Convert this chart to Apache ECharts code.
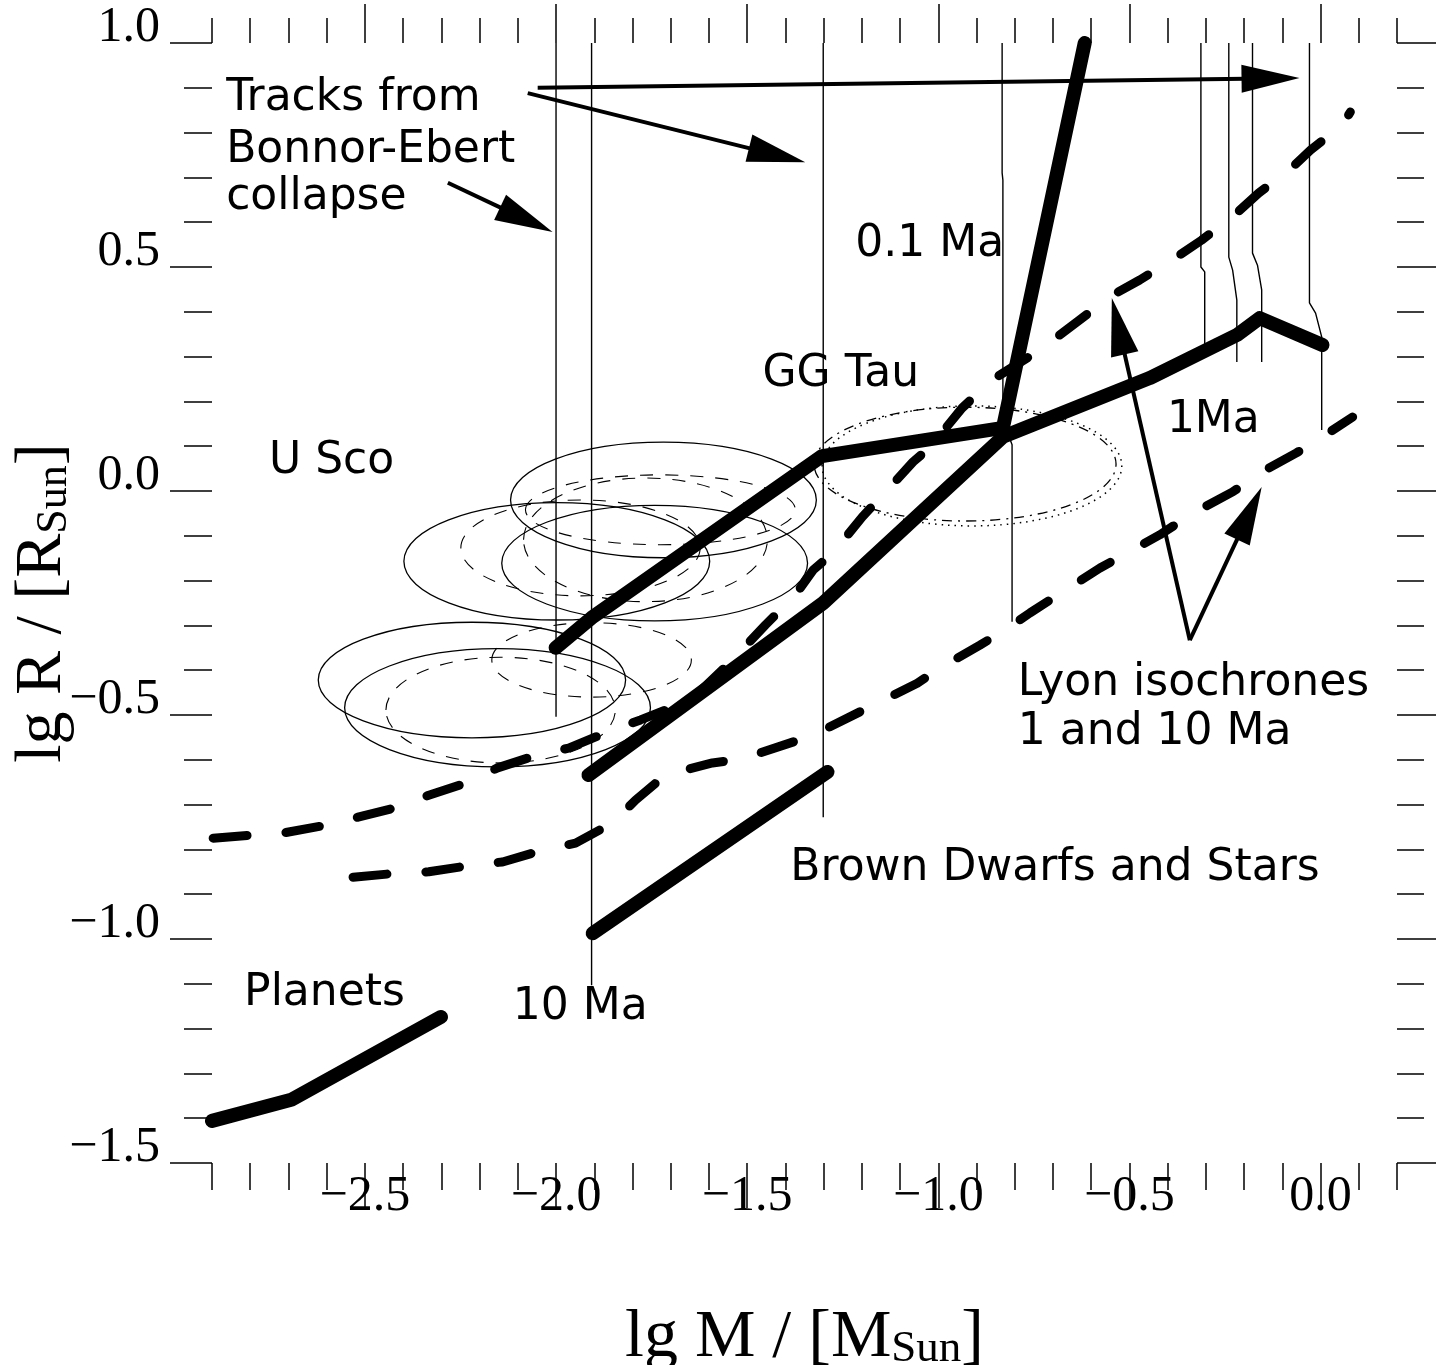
<!DOCTYPE html>
<html>
<head>
<meta charset="utf-8">
<script src="https://cdn.jsdelivr.net/npm/echarts@6/dist/echarts.min.js"></script>
<style>
  html, body { margin: 0; padding: 0; background: #fff; }
  #chart { width: 1439px; height: 1365px; }
</style>
</head>
<body>
<div id="chart"></div>
<script>
// ---- axes ----
const xRange = [-2.9, 0.2];
const yRange = [-1.5, 1.0];
const xMajorTicks = [-2.5, -2.0, -1.5, -1.0, -0.5, 0.0];

// ---- evolutionary tracks from Bonnor-Ebert collapse (lg M, lg R) ----
const track1 = [[-2.0, 1.0], [-2.0, -0.504]];
const track2 = [[-1.907, 1.0], [-1.907, -1.103]];
const track3 = [[-1.301, 1.0], [-1.301, -0.728]];
const track4 = [[-0.833, 1.0], [-0.833, 0.710], [-0.831, 0.694], [-0.831, 0.158], [-0.807, 0.103], [-0.807, -0.292]];
const track5 = [[-0.313, 1.0], [-0.313, 0.500], [-0.303, 0.489], [-0.303, 0.32]];
const track6 = [[-0.240, 1.0], [-0.240, 0.522], [-0.230, 0.493], [-0.219, 0.426], [-0.219, 0.288]];
const track7 = [[-0.178, 1.0], [-0.178, 0.531], [-0.165, 0.504], [-0.154, 0.449], [-0.154, 0.288]];
const track8 = [[-0.029, 1.0], [-0.029, 0.420], [-0.013, 0.397], [0.003, 0.344], [0.003, 0.136]];

// ---- isochrones of the collapse models ----
const beIso01Ma = [[-2.001, -0.350], [-1.907, -0.283], [-1.304, 0.078], [-0.831, 0.141], [-0.617, 1.0]];
const beIso1Ma = [[-1.915, -0.634], [-1.301, -0.250], [-0.831, 0.121], [-0.447, 0.252], [-0.219, 0.348], [-0.159, 0.386], [0.005, 0.326]];
const beIso10Ma = [[-1.904, -0.987], [-1.290, -0.627]];
const planets = [[-2.9, -1.406], [-2.693, -1.359], [-2.301, -1.174]];

// ---- Lyon isochrones ----
const lyon1Ma = [
  [-2.897, -0.775], [-2.793, -0.768], [-2.712, -0.763], [-2.602, -0.746], [-2.518, -0.728],
  [-2.411, -0.705], [-2.333, -0.679], [-2.228, -0.650], [-2.153, -0.618], [-2.048, -0.589],
  [-1.967, -0.574], [-1.865, -0.538], [-1.779, -0.511], [-1.648, -0.467], [-1.544, -0.382],
  [-1.452, -0.299], [-1.374, -0.232], [-1.327, -0.176], [-1.275, -0.138], [-1.199, -0.058],
  [-1.126, 0.009], [-1.066, 0.065], [-1.021, 0.098], [-0.938, 0.185], [-0.859, 0.248],
  [-0.734, 0.315], [-0.630, 0.382], [-0.549, 0.435], [-0.473, 0.471], [-0.381, 0.520],
  [-0.311, 0.560], [-0.225, 0.616], [-0.162, 0.665], [-0.076, 0.721], [-0.026, 0.761],
  [0.057, 0.817], [0.078, 0.846]
];
const lyon10Ma = [
  [-2.531, -0.862], [-2.414, -0.853], [-2.333, -0.850], [-2.218, -0.835], [-2.140, -0.828],
  [-2.032, -0.801], [-1.949, -0.786], [-1.852, -0.741], [-1.792, -0.690], [-1.714, -0.634],
  [-1.591, -0.607], [-1.513, -0.598], [-1.379, -0.560], [-1.327, -0.545], [-1.170, -0.478],
  [-1.055, -0.429], [-0.987, -0.391], [-0.891, -0.344], [-0.818, -0.306], [-0.760, -0.272],
  [-0.577, -0.172], [-0.421, -0.098], [-0.329, -0.047], [-0.230, -0.002], [-0.159, 0.040],
  [-0.063, 0.085], [0.005, 0.121], [0.084, 0.165]
];

// ---- observed objects: error ellipses [lg M, lg R, half-width in lg M, half-height in lg R] ----
const uScoSolid = [
  [-1.719, -0.020, 0.400, 0.129],
  [-1.998, -0.157, 0.400, 0.131],
  [-1.742, -0.161, 0.400, 0.129],
  [-2.220, -0.422, 0.402, 0.129],
  [-2.153, -0.484, 0.400, 0.132]
];
const uScoDashed = [
  [-1.766, -0.109, 0.319, 0.138],
  [-1.936, -0.127, 0.313, 0.107],
  [-1.727, -0.042, 0.353, 0.078],
  [-1.907, -0.377, 0.261, 0.083],
  [-2.145, -0.489, 0.300, 0.118]
];
const ggTauDotted = [[-0.912, 0.056, 0.392, 0.134]];
const ggTauDashDot = [[-0.930, 0.060, 0.395, 0.127]];

// ---- annotation arrows [from lg M, from lg R, to lg M, to lg R] ----
const arrows = [
  [-2.048, 0.900, -0.055, 0.922],
  [-2.074, 0.888, -1.348, 0.734],
  [-2.283, 0.688, -2.009, 0.578],
  [-0.342, -0.333, -0.546, 0.431],
  [-0.342, -0.333, -0.154, 0.009]
];

// ---- annotation texts and their anchors (lg M, lg R) ----
const noteTexts = ['Tracks from', 'Bonnor-Ebert', 'collapse', '0.1 Ma', 'GG Tau', 'U Sco', '1Ma',
  'Lyon isochrones', '1 and 10 Ma', 'Brown Dwarfs and Stars', 'Planets', '10 Ma'];
const noteAnchors = [[-2.863, 0.877], [-2.863, 0.761], [-2.863, 0.654], [-1.217, 0.549], [-1.460, 0.259],
  [-2.751, 0.065], [-0.402, 0.158], [-0.792, -0.429], [-0.792, -0.540], [-1.387, -0.842],
  [-2.816, -1.121], [-2.113, -1.152]];

// ---------------------------------------------------------------
const SERIF = '"Liberation Serif", "Times New Roman", serif';
const SANS = '"DejaVu Sans", Verdana, sans-serif';
const INK = '#000';
const tickLine = { color: INK, width: 1.5 };
const fmtTick = v => (v < -1e-9 ? '\u2212' : '') + Math.abs(v).toFixed(1);

function xAxis(position, tickLen, majorOnly, labels) {
  const ax = {
    type: 'value', gridIndex: 0, position: position,
    min: xRange[0], max: xRange[1], interval: 0.1,
    axisLine: { show: false, onZero: false }, splitLine: { show: false },
    axisTick: { show: true, inside: false, length: tickLen, lineStyle: tickLine },
    axisLabel: { show: false }
  };
  if (majorOnly) ax.axisTick.customValues = xMajorTicks;
  if (labels) {
    ax.axisLabel = {
      show: true, customValues: xMajorTicks, margin: 9, formatter: fmtTick,
      fontFamily: SERIF, fontSize: 50, lineHeight: 50, color: INK
    };
    ax.name = '{a|lg M / [M}{s|Sun}{a|]}';
    ax.nameLocation = 'middle';
    ax.nameGap = 175;
    ax.nameMoveOverlap = false;
    ax.nameTextStyle = {
      color: INK, verticalAlign: 'middle',
      rich: {
        a: { fontFamily: SERIF, fontSize: 68, lineHeight: 68, verticalAlign: 'bottom', color: INK },
        s: { fontFamily: SERIF, fontSize: 45, lineHeight: 52, verticalAlign: 'bottom', color: INK }
      }
    };
  }
  return ax;
}

function yAxis(position, tickLen, minorLen, labels) {
  const ax = {
    type: 'value', gridIndex: 0, position: position,
    min: yRange[0], max: yRange[1], interval: 0.5,
    axisLine: { show: false, onZero: false }, splitLine: { show: false },
    axisTick: { show: true, inside: false, length: tickLen, lineStyle: tickLine },
    minorTick: { show: true, splitNumber: 5, length: minorLen, lineStyle: tickLine },
    minorSplitLine: { show: false },
    axisLabel: { show: false }
  };
  if (labels) {
    ax.axisLabel = {
      show: true, margin: 52, formatter: fmtTick, verticalAlign: 'bottom',
      fontFamily: SERIF, fontSize: 50, lineHeight: 30, color: INK
    };
    ax.name = '{a|lg R / [R}{s|Sun}{a|]}';
    ax.nameLocation = 'middle';
    ax.nameGap = 169;
    ax.nameMoveOverlap = false;
    ax.nameTextStyle = {
      color: INK, verticalAlign: 'middle',
      rich: {
        a: { fontFamily: SERIF, fontSize: 66, lineHeight: 66, verticalAlign: 'bottom', color: INK },
        s: { fontFamily: SERIF, fontSize: 44, lineHeight: 50, verticalAlign: 'bottom', color: INK }
      }
    };
  }
  return ax;
}

function ellipseSeries(data, dash, width) {
  return {
    type: 'custom', coordinateSystem: 'cartesian2d', silent: true, data: data, z: 1,
    renderItem: (params, api) => {
      const c = api.coord([api.value(0), api.value(1)]);
      const s = api.size([api.value(2), api.value(3)]);
      return {
        type: 'ellipse',
        shape: { cx: c[0], cy: c[1], rx: s[0], ry: s[1] },
        style: { fill: null, stroke: INK, lineWidth: width, lineDash: dash }
      };
    }
  };
}

function lineSeries(data, width, dash, z) {
  return {
    type: 'line', data: data, showSymbol: false, symbol: 'none', silent: true,
    animation: false, z: z,
    lineStyle: { color: INK, width: width, type: dash || 'solid', cap: 'round', join: 'round' }
  };
}

const series = [];
series.push(ellipseSeries(uScoSolid, null, 1.3));
series.push(ellipseSeries(uScoDashed, [13, 12], 1.1));
series.push(ellipseSeries(ggTauDotted, [1.5, 5], 1.5));
series.push(ellipseSeries(ggTauDashDot, [10, 6, 2, 6], 1.3));

[track1, track2, track3, track4, track5, track6, track7, track8].forEach(t => {
  const s = lineSeries(t, 1.4, null, 2);
  s.lineStyle.cap = 'butt';
  series.push(s);
});

series.push(lineSeries(lyon1Ma, 9, [34, 39], 3));
series.push(lineSeries(lyon10Ma, 9, [34, 39], 3));

[beIso01Ma, beIso1Ma, beIso10Ma, planets].forEach(t => series.push(lineSeries(t, 14, null, 4)));

series.push({
  type: 'custom', coordinateSystem: 'cartesian2d', silent: true, data: arrows, z: 5,
  renderItem: (params, api) => {
    const p1 = api.coord([api.value(0), api.value(1)]);
    const p2 = api.coord([api.value(2), api.value(3)]);
    const dx = p2[0] - p1[0], dy = p2[1] - p1[1];
    const len = Math.hypot(dx, dy);
    const ux = dx / len, uy = dy / len;
    const headLen = 58, headHalf = 14;
    const bx = p2[0] - ux * headLen, by = p2[1] - uy * headLen;
    return {
      type: 'group',
      children: [
        { type: 'line', shape: { x1: p1[0], y1: p1[1], x2: bx + ux * 4, y2: by + uy * 4 },
          style: { stroke: INK, lineWidth: 4 } },
        { type: 'polygon',
          shape: { points: [[p2[0], p2[1]], [bx - uy * headHalf, by + ux * headHalf], [bx + uy * headHalf, by - ux * headHalf]] },
          style: { fill: INK } }
      ]
    };
  }
});

series.push({
  type: 'custom', coordinateSystem: 'cartesian2d', silent: true, data: noteAnchors, z: 6,
  renderItem: (params, api) => {
    const p = api.coord([api.value(0), api.value(1)]);
    return {
      type: 'text', x: p[0], y: p[1],
      style: {
        text: noteTexts[params.dataIndex], fill: INK,
        font: '44px ' + SANS, align: 'left', verticalAlign: 'middle'
      }
    };
  }
});

const chart = echarts.init(document.getElementById('chart'), null, { renderer: 'canvas' });
chart.setOption({
  backgroundColor: '#fff',
  animation: false,
  grid: { left: 212, right: 42, top: 43, bottom: 202, containLabel: false, outerBoundsMode: 'none' },
  xAxis: [
    xAxis('bottom', 27, false, false),
    xAxis('bottom', 45, true, true),
    xAxis('top', 25, false, false),
    xAxis('top', 39, true, false)
  ],
  yAxis: [
    yAxis('left', 42, 28, true),
    yAxis('right', 39, 27, false)
  ],
  series: series
});
</script>
</body>
</html>
